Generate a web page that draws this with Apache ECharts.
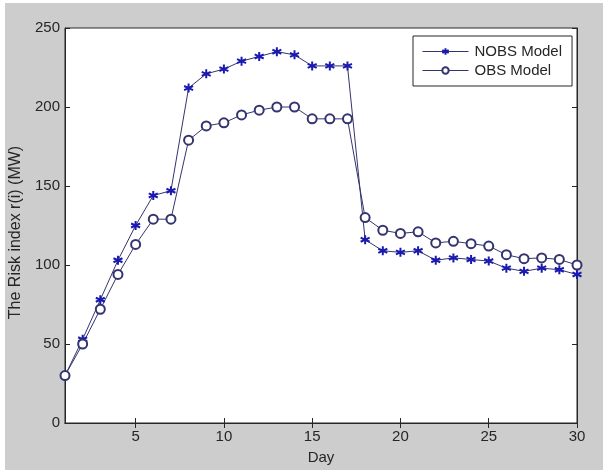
<!DOCTYPE html>
<html>
<head>
<meta charset="utf-8">
<script src="https://cdn.jsdelivr.net/npm/echarts@6/dist/echarts.min.js"></script>
<style>
  html, body { margin:0; padding:0; background:#ffffff; }
  #bg { position:absolute; left:5px; top:3px; width:598px; height:467px; background:#cdcdcd; }
  #chart { position:absolute; left:0; top:0; width:603px; height:470px; }
</style>
</head>
<body>
<div id="bg"></div>
<div id="chart"></div>
<script>
const days = [1,2,3,4,5,6,7,8,9,10,11,12,13,14,15,16,17,18,19,20,21,22,23,24,25,26,27,28,29,30];
const nobsModel = [30,53,78,103,125,144,147,212,221,224,229,232,235,233,226,226,226,116,109,108,109,103,104.5,103.5,102.5,98,96,98,97,94];
const obsModel = [30,50,72,94,113,129,129,179,188,190,195,198,200,200,192.5,192.5,192.5,130,122,120,121,114,115,113.5,112,106.5,104,104.5,103.5,100];
const xTicks = [5,10,15,20,25,30];
const yTicks = [0,50,100,150,200,250];

const font = 'Liberation Sans, Arial, sans-serif';
const lineCol = '#34346f';
const markCol = '#1a1ab0';
const axisCol = '#262626';
const textCol = '#262626';

const starPath = 'path://M0,-1L0,1M-0.95,-0.45L0.95,0.45M-0.95,0.45L0.95,-0.45';

function pairs(vals){ return days.map((d,i)=>[d, vals[i]]); }

const chart = echarts.init(document.getElementById('chart'), null, {renderer:'canvas'});
chart.setOption({
  animation: false,
  backgroundColor: 'transparent',
  grid: { left:64, top:28, width:513, height:403, show:true, backgroundColor:'#ffffff', borderColor:axisCol, borderWidth:1, containLabel:false },
  legend: {
    orient:'vertical', left:413, top:36,
    padding:[8,10,8,9], itemGap:4, itemWidth:46, itemHeight:8,
    backgroundColor:'#ffffff', borderColor:axisCol, borderWidth:1, borderRadius:0,
    lineStyle:{ width:1 },
    textStyle:{ fontFamily:font, fontSize:15, color:textCol, padding:[0,0,0,1] },
    data:['NOBS Model','OBS Model']
  },
  xAxis: [{
    type:'value', min:1, max:30,
    name:'Day', nameLocation:'middle', nameGap:27,
    nameTextStyle:{ fontFamily:font, fontSize:15, color:textCol },
    axisLine:{ show:true, lineStyle:{ color:axisCol, width:1 } },
    axisTick:{ show:true, inside:true, length:5, customValues:xTicks, lineStyle:{ color:axisCol } },
    axisLabel:{ customValues:xTicks, margin:6, fontFamily:font, fontSize:15, color:textCol },
    splitLine:{ show:false }
  },{
    type:'value', min:1, max:30, position:'top',
    axisLine:{ show:true, lineStyle:{ color:axisCol, width:1 } },
    axisTick:{ show:true, inside:true, length:5, customValues:xTicks, lineStyle:{ color:axisCol } },
    axisLabel:{ show:false }, splitLine:{ show:false }
  }],
  yAxis: [{
    type:'value', min:0, max:250, interval:50,
    name:'The Risk index r(i) (MW)', nameLocation:'middle', nameGap:41, nameRotate:90,
    nameTextStyle:{ fontFamily:font, fontSize:16, color:textCol, padding:[0,14,0,0] },
    axisLine:{ show:true, lineStyle:{ color:axisCol, width:1 } },
    axisTick:{ show:true, inside:true, length:5, lineStyle:{ color:axisCol } },
    axisLabel:{ customValues:yTicks, margin:5, fontFamily:font, fontSize:15, color:textCol },
    splitLine:{ show:false }
  },{
    type:'value', min:0, max:250, interval:50, position:'right',
    axisLine:{ show:true, lineStyle:{ color:axisCol, width:1 } },
    axisTick:{ show:true, inside:true, length:5, lineStyle:{ color:axisCol } },
    axisLabel:{ show:false }, splitLine:{ show:false }
  }],
  series: [{
    name:'NOBS Model', type:'line', xAxisIndex:0, yAxisIndex:0,
    data: pairs(nobsModel),
    symbol: starPath, symbolSize:9, showAllSymbol:true,
    lineStyle:{ color:lineCol, width:1 },
    itemStyle:{ color:markCol, borderColor:markCol, borderWidth:2 }
  },{
    name:'OBS Model', type:'line', xAxisIndex:0, yAxisIndex:0,
    data: pairs(obsModel),
    symbol:'emptyCircle', symbolSize:9, showAllSymbol:true,
    lineStyle:{ color:lineCol, width:1 },
    itemStyle:{ color:lineCol, borderColor:lineCol, borderWidth:1.2 }
  }]
});
</script>
</body>
</html>
